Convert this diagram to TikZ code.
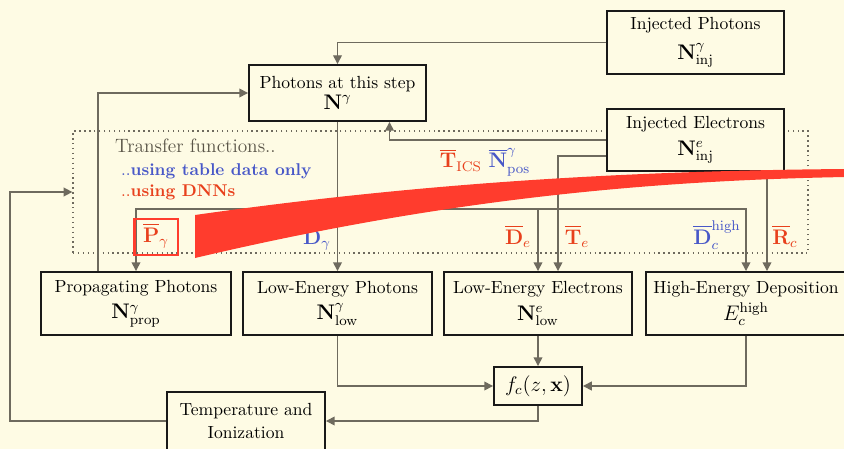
\documentclass[tikz,border=0pt]{standalone}
\usepackage{amsmath}
\usetikzlibrary{arrows.meta}

\definecolor{bgcream}{RGB}{254,251,228}
\definecolor{linegray}{RGB}{110,106,94}
\definecolor{textgray}{RGB}{90,85,72}
\definecolor{tfred}{RGB}{232,64,28}
\definecolor{tfblue}{RGB}{72,88,200}
\definecolor{hlred}{RGB}{255,60,45}

% quantity line inside a box
\newcommand{\qtymath}[1]{{\fontsize{11.5}{12}\selectfont$#1$}}

\begin{document}
\begin{tikzpicture}[x=0.02cm, y=-0.02cm,
    box/.style={rectangle, draw=black!90, line width=1.1pt, fill=bgcream, align=center, inner sep=1pt, minimum height=1.26cm},
    conn/.style={draw=linegray, line width=0.85pt, -{Triangle[length=5pt,width=5pt]}},
    dotbox/.style={rectangle, draw=linegray, dotted, line width=0.8pt, minimum width=14.7cm, minimum height=2.44cm},
    tflabel/.style={font=\large, anchor=base}]
    \useasboundingbox (0,0) rectangle (844,449);
    \fill[bgcream] (0,0) rectangle (844,449);

    % Transfer function region (dotted)
    \node[dotbox] (tf) at (440.5,192) {};

    % Define nodes
    \node[box, minimum width=3.54cm] at (695.5,42.5) (injph) {Injected Photons\\[5pt] \qtymath{\mathbf{N}^{\gamma}_{\mathrm{inj}}}};
    \node[box, minimum width=3.54cm, minimum height=1.12cm] at (337.5,93) (step) {Photons at this step\\[0pt] \qtymath{\mathbf{N}^{\gamma}}};
    \node[box, minimum width=3.54cm, minimum height=1.24cm] at (695.5,140) (injel) {Injected Electrons\\[3pt] \qtymath{\mathbf{N}^{e}_{\mathrm{inj}}}};
    \node[box, minimum width=3.8cm] at (136,303.5) (prop) {Propagating Photons\\[3pt] \qtymath{\mathbf{N}^{\gamma}_{\mathrm{prop}}}};
    \node[box, minimum width=3.78cm] at (337.5,303.5) (lowph) {Low-Energy Photons\\[3pt] \qtymath{\mathbf{N}^{\gamma}_{\mathrm{low}}}};
    \node[box, minimum width=3.76cm] at (538,303.5) (lowel) {Low-Energy Electrons\\[3pt] \qtymath{\mathbf{N}^{e}_{\mathrm{low}}}};
    \node[box, minimum width=4.0cm] at (746,303.5) (hedep) {High-Energy Deposition\\[3pt] \qtymath{E_c^{\mathrm{high}}}};
    \node[box, minimum width=1.76cm, minimum height=0.76cm] at (538,386) (fc) {\qtymath{f_c(z,\mathbf{x})}};
    \node[box, minimum width=3.16cm, minimum height=1.16cm] at (246,421) (temp) {Temperature and\\[1pt] Ionization};

    \coordinate (split) at (337.5,209);
    \path ([xshift=1.43cm]injel.south) coordinate (rcin);

    % Draw connectors
    \draw[conn] (injph.west) -| (step.north);
    \draw[conn] ([xshift=-0.76cm]prop.north) |- (step.west);
    \draw[conn] (step.south) -- (lowph.north);
    \draw[conn] (split) -| (prop.north);
    \draw[conn] (split) -| (lowel.north);
    \draw[conn] (split) -| (hedep.north);
    \draw[conn] (injel.west) -| ([xshift=1.04cm]step.south);
    \draw[conn] ([yshift=-0.32cm]injel.west) -| ([xshift=0.4cm]lowel.north);
    \draw[conn] (rcin) -- (rcin |- hedep.north);
    \draw[conn] (lowph.south) |- (fc.west);
    \draw[conn] (lowel.south) -- (fc.north);
    \draw[conn] (hedep.south) |- (fc.east);
    \draw[conn] (fc.south) |- (temp.east);
    \draw[conn] (temp.west) -- ++(-156,0) |- (tf.west);

    % Legend of the transfer functions
    \node[anchor=base west, text=textgray, font=\fontsize{11}{13}\selectfont] at (109,153) (tfhead) {Transfer functions..};
    \node[anchor=base west, text=tfblue, font=\fontsize{9.7}{12}\selectfont] at (115,175) (tftable) {..\textbf{using table data only}};
    \node[anchor=base west, text=tfred, font=\fontsize{9.7}{12}\selectfont] at (115,196) (tfdnn) {..\textbf{using DNNs}};

    % Transfer function labels
    \node[tflabel, text=tfred] at (156,242) (pgam) {$\overline{\mathbf{P}}_{\gamma}$};
    \node[tflabel, text=tfblue] at (317,244) (dgam) {$\overline{\mathbf{D}}_{\gamma}$};
    \node[tflabel] at (485,168) (tics) {\textcolor{tfred}{$\overline{\mathbf{T}}_{\mathrm{ICS}}$} \textcolor{tfblue}{$\overline{\mathbf{N}}^{\gamma}_{\mathrm{pos}}$}};
    \node[tflabel, text=tfred] at (518,244) (de) {$\overline{\mathbf{D}}_{e}$};
    \node[tflabel, text=tfred] at (577,244) (te) {$\overline{\mathbf{T}}_{e}$};
    \node[tflabel, text=tfblue] at (717,244) (dhigh) {$\overline{\mathbf{D}}_{c}^{\mathrm{high}}$};
    \node[tflabel, text=tfred] at (785,244) (rc) {$\overline{\mathbf{R}}_{c}$};

    % Red highlight
    \node[rectangle, draw=hlred, line width=1.7pt, minimum width=0.88cm, minimum height=0.72cm] at (156,237) (pbox) {};
    \fill[hlred] (195,215) .. controls (400,186) and (600,171) .. (846,169)
        -- (846,177) .. controls (620,181) and (420,205) .. (195,258) -- cycle;
\end{tikzpicture}
\end{document}
